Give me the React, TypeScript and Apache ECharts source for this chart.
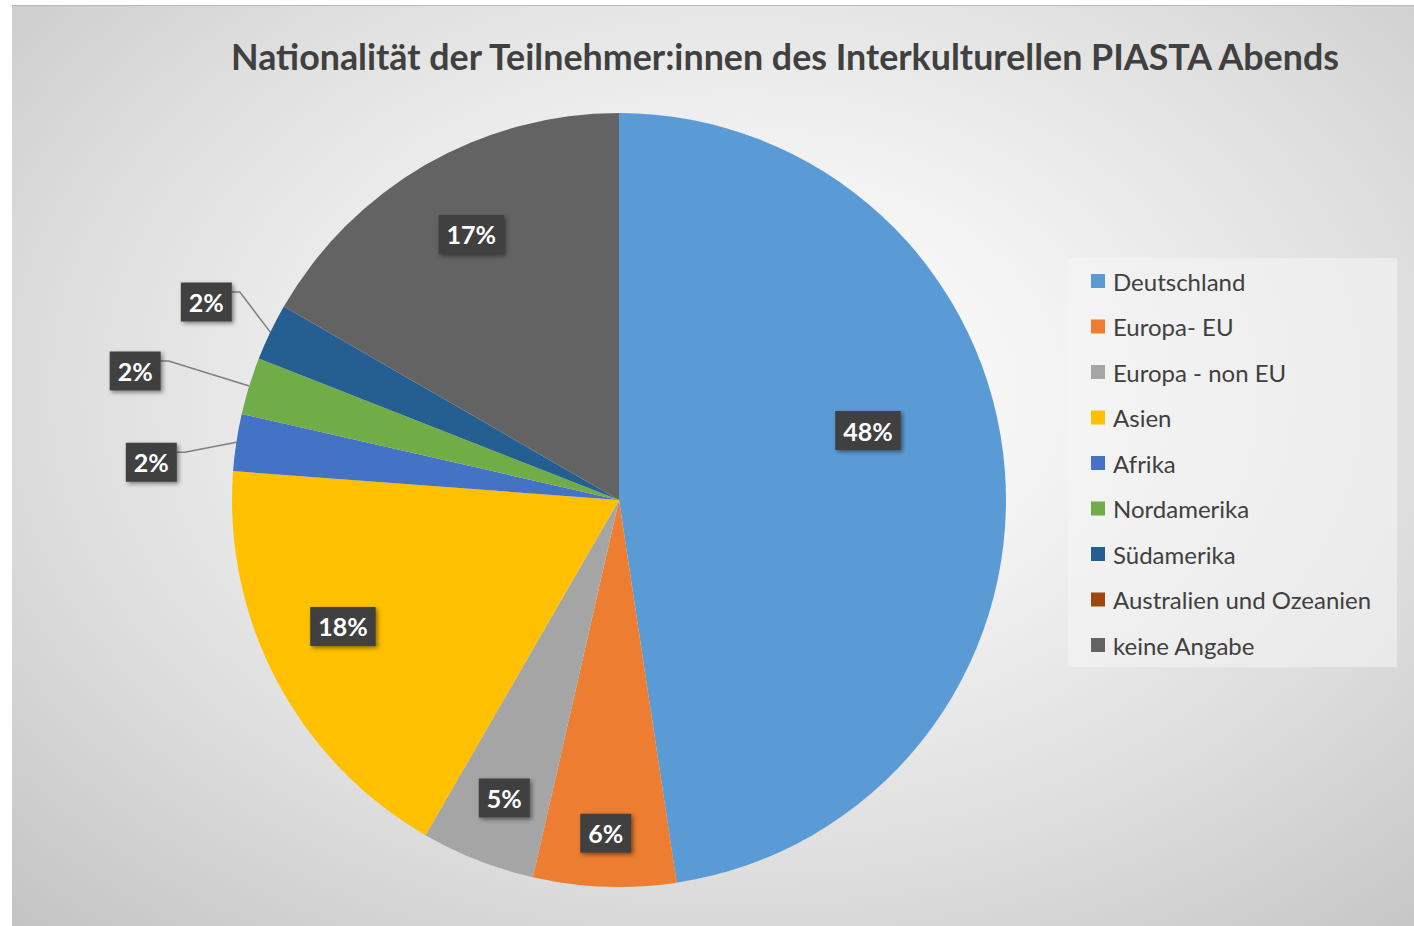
import React, { useEffect, useRef } from "react";
import * as echarts from "echarts";

// ---- data ----
const categories = [
  "Deutschland",
  "Europa- EU",
  "Europa - non EU",
  "Asien",
  "Afrika",
  "Nordamerika",
  "Südamerika",
  "Australien und Ozeanien",
  "keine Angabe",
];
const counts = [40, 5, 4, 15, 2, 2, 2, 0, 14];
const titleText = "Nationalität der Teilnehmer:innen des Interkulturellen PIASTA Abends";

// ---- styles ----
const colors = ["#5B9BD5", "#ED7D31", "#A5A5A5", "#FFC000", "#4472C4", "#70AD47", "#255E91", "#9E480E", "#636363"];
const FONT = "Lato, 'Open Sans', sans-serif";
const W = 1402;
const H = 921;
const CX = 607;
const CY = 495;
const R = 387;
// label offsets (px) from the default inside position (half radius)
const insideOffsets: Record<number, [number, number]> = {
  0: [56, -55],
  1: [-6, 140],
  2: [-44, 118],
  3: [-105, 36],
  8: [-51, -98],
};
// label offsets (px) from the slice's outer-edge mid point
const outsideOffsets: Record<number, [number, number]> = {
  4: [-85, 20],
  5: [-114, -15],
  6: [-64, -30],
};

const total = counts.reduce((a, b) => a + b, 0);
const midAngle = (i: number) => {
  let cum = 0;
  for (let k = 0; k < i; k++) cum += counts[k];
  return ((cum + counts[i] / 2) / total) * Math.PI * 2;
};
const polar = (a: number, r: number): [number, number] => [CX + r * Math.sin(a), CY - r * Math.cos(a)];

export default function App() {
  const ref = useRef<HTMLDivElement>(null);
  useEffect(() => {
    if (!ref.current) return;
    const chart = echarts.init(ref.current, undefined, { renderer: "svg", width: W, height: H });
    const data = categories.map((name, i) => {
      const outside = outsideOffsets[i] !== undefined;
      return {
        name,
        value: counts[i],
        itemStyle: { color: colors[i] },
        label: { show: counts[i] > 0, position: outside ? "outside" : "inside" },
        labelLine: { show: outside },
      };
    });
    chart.setOption({
      animation: false,
      backgroundColor: "transparent",
      graphic: [
        {
          type: "text",
          x: 773,
          y: 51,
          style: {
            text: titleText,
            fontFamily: FONT,
            fontWeight: "bold",
            fontSize: 35.8,
            fill: "#404040",
            align: "center",
            verticalAlign: "middle",
          },
        },
      ],
      legend: {
        orient: "vertical",
        left: 1056,
        top: 253,
        icon: "rect",
        itemWidth: 14,
        itemHeight: 14,
        itemGap: 21.5,
        padding: [11, 26, 10, 23],
        backgroundColor: "rgba(246,246,246,0.55)",
        textStyle: { fontFamily: FONT, fontSize: 24, color: "#404040", lineHeight: 24, padding: [0, 0, 0, 3] },
        data: categories,
      },
      series: [
        {
          type: "pie",
          center: [CX, CY],
          radius: [0, R],
          startAngle: 90,
          clockwise: true,
          avoidLabelOverlap: false,
          percentPrecision: 0,
          itemStyle: { borderWidth: 0 },
          label: {
            show: true,
            position: "inside",
            formatter: "{d}%",
            color: "#ffffff",
            fontFamily: FONT,
            fontWeight: "bold",
            fontSize: 25,
            backgroundColor: "#404040",
            padding: [8, 8, 6, 8],
            shadowColor: "rgba(0,0,0,0.45)",
            shadowBlur: 4,
            shadowOffsetX: 2,
            shadowOffsetY: 2,
          },
          labelLine: { show: false, lineStyle: { color: "#7f7f7f", width: 1.5 } },
          labelLayout: (params: any) => {
            const i = params.dataIndex;
            const rect = params.labelRect;
            const a = midAngle(i);
            if (outsideOffsets[i]) {
              const [ax, ay] = polar(a, R);
              const [dx, dy] = outsideOffsets[i];
              const x = ax + dx;
              const y = ay + dy;
              const right = x + rect.width / 2;
              const ly = y - 10;
              return {
                x,
                y,
                align: "center",
                verticalAlign: "middle",
                labelLinePoints: [
                  [ax, ay],
                  [right + 8, ly],
                  [right, ly],
                ],
              };
            }
            const off = insideOffsets[i] || [0, 0];
            const [bx, by] = polar(a, R / 2);
            return { x: bx + off[0], y: by + off[1], align: "center", verticalAlign: "middle" };
          },
          data,
        },
      ],
    });
    return () => chart.dispose();
  }, []);

  return (
    <div style={{ position: "absolute", left: 0, top: 0, width: 1414, height: 926, background: "#ffffff", overflow: "hidden" }}>
      <div
        style={{
          position: "absolute",
          left: 12,
          top: 5,
          width: W,
          height: H,
          borderTop: "1px solid #b8b8b8",
          boxSizing: "border-box",
          background: "radial-gradient(ellipse 75% 80% at 52% 42%, #ffffff 0%, #f3f3f3 30%, #dedede 65%, #c4c4c4 100%)",
        }}
      >
        <div ref={ref} style={{ position: "absolute", left: 0, top: -1, width: W, height: H }} />
      </div>
    </div>
  );
}
